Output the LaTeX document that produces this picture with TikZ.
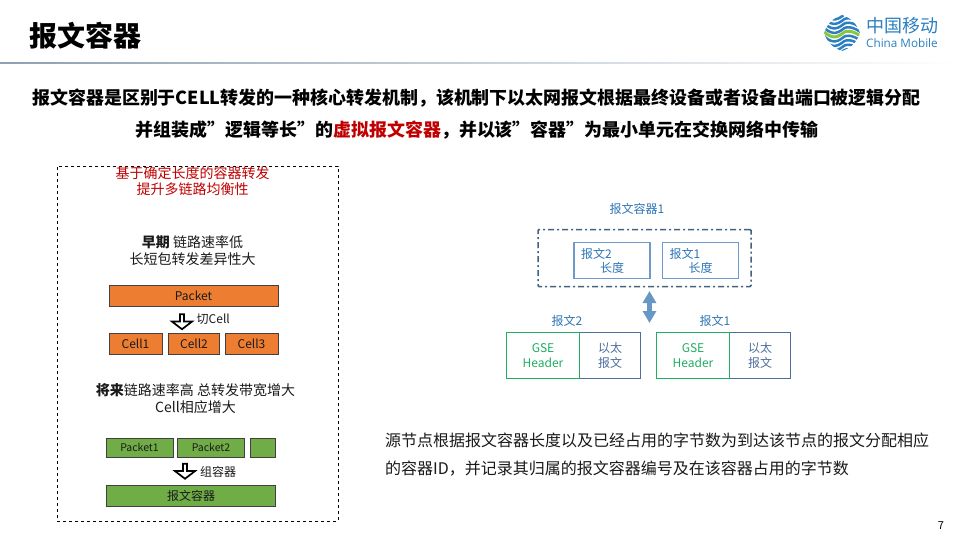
\documentclass[tikz,border=0pt]{standalone}
\usepackage{fontspec}
\setmainfont{Noto Sans CJK SC}
\newfontfamily\latinlogo{Open Sans}
\usetikzlibrary{arrows.meta,shapes.arrows}
\definecolor{cmred}{HTML}{C00000}
\definecolor{cmblue}{HTML}{2E75B6}
\definecolor{cmsteel}{HTML}{44617F}
\definecolor{cmbox}{HTML}{6F9BC8}
\definecolor{cmgreen}{HTML}{1FAE62}
\definecolor{cmslate}{HTML}{4E6E9E}
\definecolor{cmorange}{HTML}{ED7D31}
\definecolor{cmleaf}{HTML}{70AD47}
\definecolor{cmlogo}{HTML}{2A80C0}
\definecolor{cmlime}{HTML}{8CC63F}
\definecolor{txt}{HTML}{1A1A1A}
\tikzset{
  x=1pt,y=-1pt,
  lbl/.style={inner sep=0pt,align=center,text=txt},
  fs/.style={font=\fontsize{#1}{#1}\selectfont},
  fsl/.style={font=\fontsize{12}{15}\selectfont},
  orangebox/.style={draw=black!75,line width=1pt,fill=cmorange,inner sep=0pt,fs=12,text=txt},
  leafbox/.style={draw=black!75,line width=1pt,fill=cmleaf,inner sep=0pt,fs=10.5,text=txt},
  lenbox/.style={draw=cmbox,line width=1.3pt,fill=white,inner sep=0pt,minimum width=76pt,minimum height=36pt},
  gsebox/.style={draw=cmgreen,line width=1.3pt,inner sep=0pt,minimum width=73pt,minimum height=46pt,fsl,text=cmgreen,align=center},
  ethbox/.style={draw=cmslate,line width=1.3pt,inner sep=0pt,minimum width=61pt,minimum height=46pt,fsl,text=cmslate,align=center},
  downarrow/.style={single arrow,shape border rotate=270,draw=black,line width=1.7pt,fill=white,minimum height=15pt,minimum width=20pt,single arrow head extend=3.5pt,single arrow tip angle=105,inner sep=0pt},
  bluelbl/.style={inner sep=0pt,fs=12,text=cmblue},
  logoband/.style={draw=cmlogo,line width=2.5pt},
  headline/.style={lbl,font=\fontsize{17.95}{17.95}\selectfont\bfseries,text=black},
  wave/.pic={\draw[pic actions] (-22,-7) .. controls (-15,3) and (-8,6) .. (-1,1) .. controls (3,-3) and (9,-5) .. (22,5);},
}
\begin{document}
\begin{tikzpicture}
\useasboundingbox (0,0) rectangle (960,540);
\fill[white] (0,0) rectangle (960,540);
% title
\node[lbl,anchor=center,font=\fontsize{28}{28}\selectfont\bfseries,text=black] (title) at (85.5,36) {报文容器};
\shade[left color=cmsteel!60,middle color=cmsteel!22,right color=white] (0,62.5) rectangle (960,64);
% logo
\begin{scope}[shift={(842,33)}]
  \begin{scope}
    \clip (-18,0) .. controls (-15,-9) and (-9,-15) .. (0,-18) .. controls (9,-15) and (15,-9) .. (18,0) .. controls (15,9) and (9,15) .. (0,18) .. controls (-9,15) and (-15,9) .. (-18,0) -- cycle;
    \foreach \dy in {-17,-12.5,-8,-3.5,5,9.5,14,18.5} {
      \path[logoband] (0,\dy) pic {wave};
    }
    \path[draw=cmlime,line width=3pt] (0,0.5) pic {wave};
  \end{scope}
\end{scope}
\node[inner sep=0pt,fs=18,text=cmlogo,anchor=west] (logocn) at (866,26) {中国移动};
\node[inner sep=0pt,text=cmlogo,anchor=west,font=\latinlogo\fontsize{11.7}{11.7}\selectfont] (logoen) at (866,43) {China Mobile};
% headline
\node[headline] (head1) at (476.5,98) {报文容器是区别于CELL转发的一种核心转发机制，该机制下以太网报文根据最终设备或者设备出端口被逻辑分配};
\node[headline] (head2) at (477,130) {并组装成”逻辑等长”的\textcolor{cmred}{虚拟报文容器}，并以该”容器”为最小单元在交换网络中传输};
% left panel
\node[draw=black,dashed,line width=.8pt,minimum width=281pt,minimum height=355pt,inner sep=0pt] (panel) at (197.5,343.5) {};
\node[lbl,fs=14,text=cmred] (red1) at (192.5,173.5) {基于确定长度的容器转发};
\node[lbl,fs=14,text=cmred] (red2) at (192.5,189) {提升多链路均衡性};
\node[lbl,fs=14] (early1) at (192.5,242.5) {\textbf{早期} 链路速率低};
\node[lbl,fs=14] (early2) at (192.5,259) {长短包转发差异性大};
\node[orangebox,minimum width=169pt,minimum height=21pt] (packet) at (193.5,296) {Packet};
\node[downarrow] (arr1) at (182,321) {};
\node[lbl,fs=12,anchor=west] (cut) at (196.5,319.5) {切Cell};
\node[orangebox,minimum width=53pt,minimum height=21pt] (cell1) at (135.5,344) {Cell1};
\node[orangebox,minimum width=51pt,minimum height=21pt] (cell2) at (194,344) {Cell2};
\node[orangebox,minimum width=53pt,minimum height=21pt] (cell3) at (251.5,344) {Cell3};
\node[lbl,fs=14] (fut1) at (195.5,390) {\textbf{将来}链路速率高 总转发带宽增大};
\node[lbl,fs=14] (fut2) at (195.5,407) {Cell相应增大};
\node[leafbox,minimum width=67pt,minimum height=19pt] (p1) at (139.5,447.5) {Packet1};
\node[leafbox,minimum width=67pt,minimum height=19pt] (p2) at (211,447.5) {Packet2};
\node[leafbox,minimum width=25pt,minimum height=19pt] (p3) at (262.5,447.5) {};
\node[downarrow] (arr2) at (185,470.5) {};
\node[lbl,fs=12,anchor=west] (grp) at (200,472) {组容器};
\node[leafbox,fs=12,minimum width=169pt,minimum height=21pt] (cont) at (191,496) {报文容器};
% right diagram
\node[bluelbl] (c1lbl) at (637,209) {报文容器1};
\node[draw=cmsteel,line width=1.5pt,dash pattern=on 6pt off 3pt on 2pt off 3pt,rounded corners=1pt,minimum width=213pt,minimum height=57pt,inner sep=0pt] (cont1) at (644.5,258) {};
\node[lenbox] (len2) at (612,260.5) {};
\node[bluelbl,anchor=west] (len2a) at (581,253.5) {报文2};
\node[bluelbl,anchor=west] (len2b) at (600,268) {长度};
\node[lenbox] (len1) at (700.5,260.5) {};
\node[bluelbl,anchor=west] (len1a) at (669.5,253.5) {报文1};
\node[bluelbl,anchor=west] (len1b) at (688.5,268) {长度};
\coordinate (dtop) at (649.5,291);
\coordinate (dbot) at (649.5,323);
\draw[{Triangle[width=13pt,length=12pt]}-{Triangle[width=13pt,length=12pt]},line width=5pt,draw=cmbox!90!cmblue] (dtop) -- (dbot);
\node[bluelbl] (m2lbl) at (567,321) {报文2};
\node[bluelbl] (m1lbl) at (715,321) {报文1};
\node[ethbox] (eth2) at (610,355.5) {以太\\报文};
\node[gsebox] (gse2) at (543,355.5) {GSE\\Header};
\node[ethbox] (eth1) at (760,355.5) {以太\\报文};
\node[gsebox] (gse1) at (693,355.5) {GSE\\Header};
% body
\node[lbl,fs=16,anchor=west,text=txt] (b1) at (385,440) {源节点根据报文容器长度以及已经占用的字节数为到达该节点的报文分配相应};
\node[lbl,fs=16,anchor=west,text=txt] (b2) at (385,469) {的容器ID，并记录其归属的报文容器编号及在该容器占用的字节数};
\node[lbl,fs=11,text=black] (pg) at (941,526) {7};
\end{tikzpicture}
\end{document}
